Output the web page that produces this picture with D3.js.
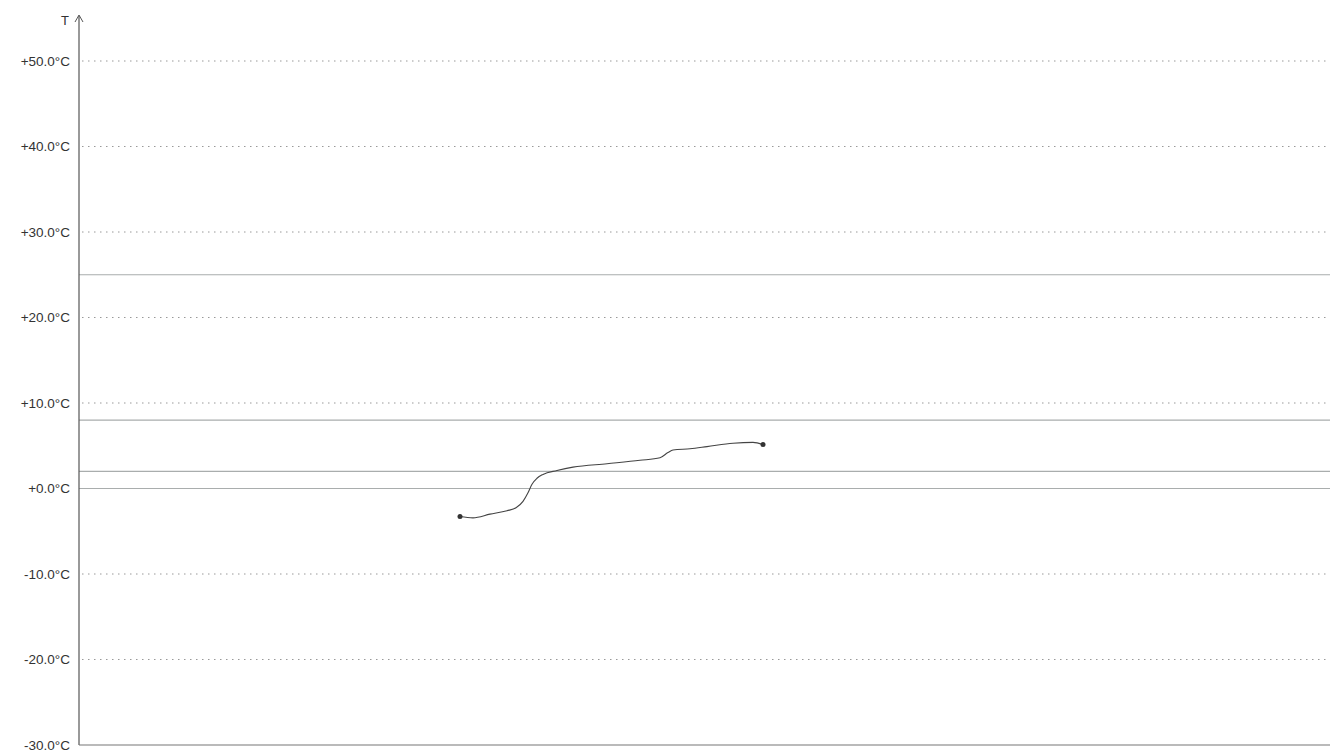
<!DOCTYPE html>
<html lang="en">
<head>
  <meta charset="UTF-8" />
  <title>Temperature</title>
  <style>
    body { margin: 0; background: #fff; }
    svg { display: block; font-family: "Liberation Sans", Arial, sans-serif; }
  </style>
</head>
<body>
  <svg width="1330" height="752"></svg>
  <script src="https://d3js.org/d3.v7.min.js"></script>
  <script>
    // elapsed minutes and measured temperature (°C)
    const minutes = [381, 394, 411, 428, 437, 444, 449, 453, 458, 464, 478, 494, 528, 561, 581, 589, 594, 611, 628, 654, 674, 684];
    const temps = [-3.27, -3.43, -3.0, -2.6, -2.25, -1.5, -0.5, 0.5, 1.2, 1.65, 2.1, 2.5, 2.9, 3.3, 3.6, 4.2, 4.5, 4.65, 4.9, 5.3, 5.4, 5.15];

    // y ticks and reference levels
    const yTicks = [50, 40, 30, 20, 10, 0, -10, -20, -30];
    const refLevels = [25, 8, 2, 0];

    const svg = d3.select('svg');
    const mLeft = 79, mRight = 1330, mTop = 61, mBottom = 745;

    const x = d3.scaleLinear().domain([0, 1251]).range([mLeft, mRight]);
    const y = d3.scaleLinear().domain([-30, 50]).range([mBottom, mTop]);

    const fmt = v => (v >= 0 ? '+' : '') + v.toFixed(1) + '°C';

    // dotted grid
    svg.append('g')
      .selectAll('line')
      .data(yTicks.filter(t => t > -30))
      .enter().append('line')
      .attr('x1', mLeft + 3).attr('x2', mRight)
      .attr('y1', d => y(d)).attr('y2', d => y(d))
      .attr('stroke', '#999')
      .attr('stroke-width', 1)
      .attr('stroke-dasharray', '1.5,4.5');

    // reference lines
    svg.append('g')
      .selectAll('line')
      .data(refLevels)
      .enter().append('line')
      .attr('x1', mLeft).attr('x2', mRight)
      .attr('y1', d => y(d)).attr('y2', d => y(d))
      .attr('stroke', '#a9adad')
      .attr('stroke-width', 1.2);

    // y axis
    const yAxis = d3.axisLeft(y).tickValues(yTicks).tickFormat(fmt).tickSize(0).tickPadding(9);
    const ga = svg.append('g').attr('transform', `translate(${mLeft},0)`).call(yAxis);
    ga.select('.domain').remove();
    ga.selectAll('text').attr('font-size', 13.5).attr('fill', '#333')
      .attr('font-family', '"Liberation Sans", Arial, sans-serif');

    // axis lines
    svg.append('line')
      .attr('x1', mLeft).attr('x2', mLeft).attr('y1', 16).attr('y2', mBottom)
      .attr('stroke', '#555').attr('stroke-width', 1.2);
    svg.append('line')
      .attr('x1', mLeft).attr('x2', mRight).attr('y1', mBottom).attr('y2', mBottom)
      .attr('stroke', '#777').attr('stroke-width', 1.2);
    svg.append('path')
      .attr('d', `M${mLeft - 4},${22} L${mLeft},${15} L${mLeft + 4},${22}`)
      .attr('fill', 'none').attr('stroke', '#555').attr('stroke-width', 1);
    svg.append('text')
      .attr('x', 65).attr('y', 25)
      .attr('text-anchor', 'middle')
      .attr('font-size', 13).attr('fill', '#333')
      .text('T');

    // temperature curve
    const data = minutes.map((m, i) => ({ m, t: temps[i] }));
    const line = d3.line()
      .x(d => x(d.m))
      .y(d => y(d.t))
      .curve(d3.curveMonotoneX);
    svg.append('path')
      .datum(data)
      .attr('d', line)
      .attr('fill', 'none')
      .attr('stroke', '#444')
      .attr('stroke-width', 1.1);

    // end markers
    svg.append('g')
      .selectAll('circle')
      .data([data[0], data[data.length - 1]])
      .enter().append('circle')
      .attr('cx', d => x(d.m))
      .attr('cy', d => y(d.t))
      .attr('r', 2.5)
      .attr('fill', '#333');
  </script>
</body>
</html>
